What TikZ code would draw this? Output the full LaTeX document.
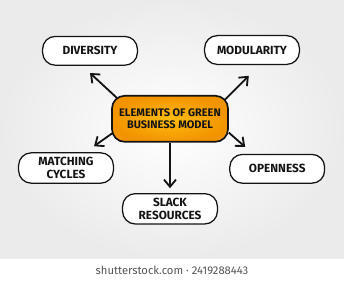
\documentclass[tikz,border=0pt]{standalone}
\usepackage{fontspec}
\setmainfont{Fira Sans}
\usetikzlibrary{arrows.meta,calc}
\definecolor{Ink}{HTML}{141414}
\definecolor{Haze}{HTML}{EBEBEB}
\definecolor{Amber}{HTML}{FFBC10}
\definecolor{Tangerine}{HTML}{F29400}
\definecolor{MarkGray}{HTML}{555555}
\tikzset{
  topic/.style={
    rounded corners=9pt, draw=Ink, line width=1.2pt,
    shading=radial, inner color=Amber, outer color=Tangerine,
    minimum width=2.9cm, minimum height=1.15cm, align=center,
    font=\fontsize{7.8}{8.8}\selectfont\bfseries, text=Ink
  },
  element/.style={
    rounded corners=9pt, draw=Ink, line width=0.9pt, fill=white,
    minimum width=2.37cm, minimum height=0.72cm, align=center,
    font=\fontsize{8.4}{8.8}\selectfont\bfseries, text=Ink
  },
  link/.style={-{Straight Barb[length=1.8mm,width=3mm]}, line width=1.3pt, draw=Ink}
}

\begin{document}
\begin{tikzpicture}[x=1cm,y=1cm]
  \useasboundingbox (0,0) rectangle (8.6,7);
  \fill[white] (0,0) rectangle (8.6,0.55);
  \shade[inner color=white, outer color=Haze] (0,0.55) rectangle (8.6,7);
  \node[font=\fontsize{8}{9}\selectfont, text=MarkGray] (stock) at (4.3,0.23) {shutterstock.com · 2419288443};

  \node[topic] (elements) at (4.25,4.03) {ELEMENTS OF GREEN\\BUSINESS MODEL};
  \node[element] (diversity) at (2.25,5.73) {DIVERSITY};
  \node[element] (modularity) at (6.3,5.75) {MODULARITY};
  \node[element] (matching) at (1.65,2.8) {MATCHING\\CYCLES};
  \node[element] (openness) at (6.93,2.78) {OPENNESS};
  \node[element] (slack) at (4.25,1.78) {SLACK\\RESOURCES};

  \draw[link] ($(elements.north west)+(0.15,-0.08)$) -- ($(diversity.south)+(0,-0.18)$);
  \draw[link] ($(elements.north east)+(-0.1,-0.12)$) -- ($(modularity.south)+(-0.08,-0.27)$);
  \draw[link] ($(elements.south west)+(0.05,0.25)$) -- ($(matching.north)+(0.7,0.15)$);
  \draw[link] ($(elements.south east)+(0,0.25)$) -- ($(openness.north)+(-0.8,0.17)$);
  \draw[link, shorten >=0.12cm] (elements.south) -- (slack.north);
\end{tikzpicture}
\end{document}
